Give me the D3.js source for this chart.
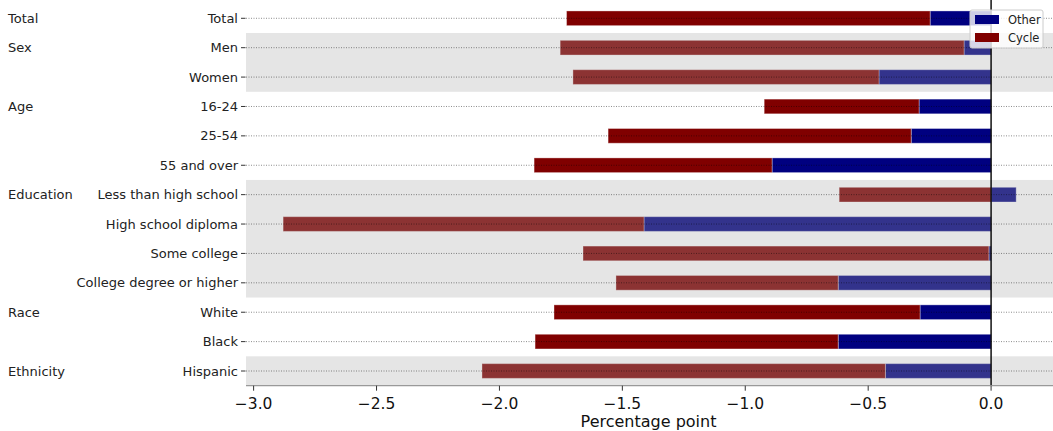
<!DOCTYPE html>
<html><head><meta charset="utf-8">
<script src="https://cdn.jsdelivr.net/npm/d3@7"></script>
<style>body{margin:0;background:#fff;} text{font-family:"DejaVu Sans",sans-serif;}</style>
</head><body><svg id="c" width="1053" height="431"></svg>
<script>
const categories = ["Total","Men","Women","16-24","25-54","55 and over","Less than high school","High school diploma","Some college","College degree or higher","White","Black","Hispanic"];
const groupLabels = ["Total","Sex","Sex","Age","Age","Age","Education","Education","Education","Education","Race","Race","Ethnicity"];
const otherValues = [-0.248,-0.110,-0.456,-0.293,-0.325,-0.891,0.102,-1.412,-0.009,-0.622,-0.289,-0.622,-0.430];
const cycleValues = [-1.479,-1.643,-1.245,-0.630,-1.233,-0.968,-0.618,-1.468,-1.651,-0.904,-1.489,-1.233,-1.641];
const shadedGroups = ["Sex","Education","Ethnicity"];
const xTicks = [-3.0,-2.5,-2.0,-1.5,-1.0,-0.5,0.0];
const seriesKeys = ["Other","Cycle"];
const colors = {Other:"#000080", Cycle:"#800000"};

const svg = d3.select("#c");
const x = d3.scaleLinear().domain([-3.031, 0.26]).range([246, 1055]);
const y = d3.scaleBand().domain(categories).range([3.6, 385.7]).paddingInner(0.5).paddingOuter(0.25);
const step = y.step();

const rows = categories.map((c,i)=>({cat:c, Other:otherValues[i], Cycle:cycleValues[i]}));
const stacked = d3.stack().keys(seriesKeys).offset(d3.stackOffsetDiverging)(rows);

// bars
svg.append("g").selectAll("g").data(stacked).join("g").attr("fill", d=>colors[d.key])
  .attr("stroke","#fff").attr("stroke-opacity",0.35).attr("stroke-width",1)
  .selectAll("rect").data(d=>d).join("rect")
  .attr("x", d=>x(Math.min(d[0],d[1])))
  .attr("width", d=>Math.abs(x(d[1])-x(d[0])))
  .attr("y", d=>y(d.data.cat))
  .attr("height", y.bandwidth());

// shaded group bands (drawn over bars)
shadedGroups.forEach(g=>{
  const cats = categories.filter((c,i)=>groupLabels[i]===g);
  const top = y(cats[0]) + y.bandwidth()/2 - step/2;
  const bot = y(cats[cats.length-1]) + y.bandwidth()/2 + step/2;
  svg.append("rect").attr("x", x.range()[0]).attr("width", x.range()[1]-x.range()[0])
    .attr("y", top).attr("height", bot-top).attr("fill","#a9a9a9").attr("fill-opacity",0.3);
});

// gridlines
svg.append("g").selectAll("line").data(categories).join("line")
  .attr("x1", x.range()[0]).attr("x2", x.range()[1])
  .attr("y1", d=>y(d)+y.bandwidth()/2).attr("y2", d=>y(d)+y.bandwidth()/2)
  .attr("stroke","#000").attr("stroke-opacity",0.45).attr("stroke-width",1)
  .attr("stroke-dasharray","1,1.5");

// zero line
svg.append("line").attr("x1",x(0)).attr("x2",x(0)).attr("y1",0).attr("y2",y.range()[1])
  .attr("stroke","#000").attr("stroke-width",1.4);

// y axis ticks + labels
const yl = svg.append("g");
categories.forEach((c,i)=>{
  const cy = y(c)+y.bandwidth()/2;
  yl.append("line").attr("x1",241).attr("x2",245.5).attr("y1",cy).attr("y2",cy).attr("stroke","#333").attr("stroke-width",1);
  yl.append("text").attr("x",238).attr("y",cy).attr("dy","0.35em").attr("text-anchor","end")
    .attr("font-size",13).attr("fill","#222").text(c);
  if (i===0 || groupLabels[i]!==groupLabels[i-1]) {
    yl.append("text").attr("x",8).attr("y",cy).attr("dy","0.35em").attr("font-size",13).attr("fill","#222").text(groupLabels[i]);
  }
});

// x axis
const xb = svg.append("g").attr("transform",`translate(0,${y.range()[1]})`);
xb.append("line").attr("x1",x.range()[0]).attr("x2",x.range()[1]).attr("stroke","#999").attr("stroke-width",1.2);
xb.selectAll("g.t").data(xTicks).join("g").attr("class","t")
  .attr("transform",d=>`translate(${x(d)},0)`)
  .each(function(d){
    const g = d3.select(this);
    g.append("line").attr("y1",0).attr("y2",5).attr("stroke","#333");
    g.append("text").attr("y",23).attr("text-anchor","middle").attr("font-size",15.5).attr("fill","#111")
      .text(d3.format(".1f")(d).replace("-","\u2212"));
  });
svg.append("text").attr("x",(x.range()[0]+x.range()[1])/2-2).attr("y",427).attr("text-anchor","middle")
  .attr("font-size",16).attr("fill","#111").text("Percentage point");

// legend
const lg = svg.append("g").attr("transform","translate(970,10)");
lg.append("rect").attr("width",73).attr("height",38).attr("rx",2).attr("fill","#fff").attr("fill-opacity",0.8)
  .attr("stroke","#ccc").attr("stroke-width",1);
seriesKeys.forEach((k,i)=>{
  lg.append("rect").attr("x",5).attr("y",5+i*18).attr("width",24).attr("height",9).attr("fill",colors[k]);
  lg.append("text").attr("x",38).attr("y",10+i*18).attr("dy","0.35em").attr("font-size",11.5).attr("fill","#222").text(k);
});
</script></body></html>
